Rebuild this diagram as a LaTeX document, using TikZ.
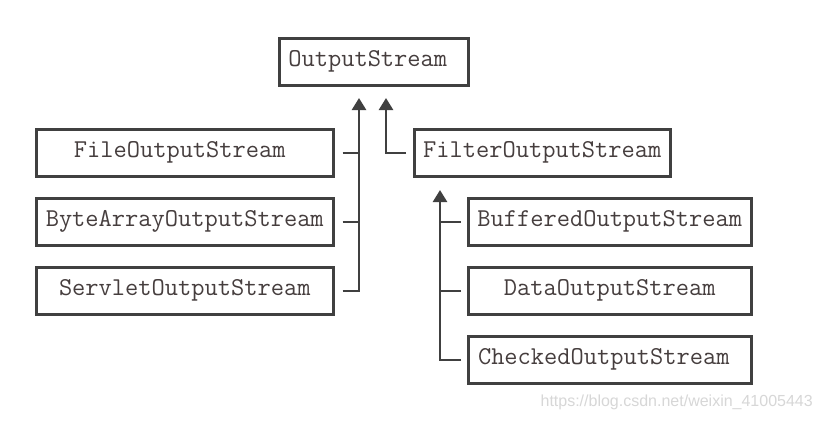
\documentclass[tikz,border=0pt]{standalone}
\usepackage{fontspec}
\setmainfont{Liberation Sans}
\usetikzlibrary{arrows.meta}
\definecolor{linec}{RGB}{64,64,64}
\definecolor{textc}{RGB}{70,62,62}
\definecolor{wmark}{RGB}{215,215,215}
\tikzset{
  cls/.style={draw=linec, line width=2.5pt, fill=white, text=textc,
    font=\ttfamily\fontsize{25.7}{30}\selectfont, inner sep=0pt,
    minimum height=47pt, anchor=north west},
  conn/.style={draw=linec, line width=2.5pt},
  inh/.style={conn, -{Triangle[width=14pt,length=12pt]}}
}
\begin{document}
\begin{tikzpicture}[x=1pt,y=-1pt]
\useasboundingbox[fill=white] (0,0) rectangle (822,421);
% nodes
\node[cls, minimum width=189pt] (os) at (278,37) {OutputStream\hspace*{12pt}};
\node[cls, minimum width=297pt] (fos) at (35,128) {FileOutputStream\hspace*{10pt}};
\node[cls, minimum width=297pt] (baos) at (35,197) {ByteArrayOutputStream};
\node[cls, minimum width=297pt] (sos) at (35,266) {ServletOutputStream};
\node[cls, minimum width=256pt] (filt) at (413,128) {FilterOutputStream};
\node[cls, minimum width=283pt] (bos) at (467,197) {BufferedOutputStream};
\node[cls, minimum width=283pt] (dos) at (467,266) {DataOutputStream};
\node[cls, minimum width=283pt] (cos) at (467,335) {\hspace*{-1pt}CheckedOutputStream\hspace*{11pt}};
% arrow tips
\coordinate (ltop) at (359,98);
\coordinate (rtop) at (386,98);
\coordinate (ftop) at (440,190);
% left group
\draw[inh] ([xshift=8pt]sos.east) -| (ltop);
\draw[conn] ([xshift=8pt]fos.east) -- (fos.east -| ltop);
\draw[conn] ([xshift=8pt]baos.east) -- (baos.east -| ltop);
% filter
\draw[inh] ([xshift=-7pt]filt.west) -| (rtop);
% filter subclasses
\draw[inh] ([xshift=-6pt]cos.west) -| (ftop);
\draw[conn] ([xshift=-6pt]bos.west) -- (bos.west -| ftop);
\draw[conn] ([xshift=-6pt]dos.west) -- (dos.west -| ftop);
% watermark
\node[anchor=east, text=wmark, font=\fontsize{16}{19}\selectfont, inner sep=0pt] (wm) at (813,402) {https://blog.csdn.net/weixin\_41005443};
\end{tikzpicture}
\end{document}
